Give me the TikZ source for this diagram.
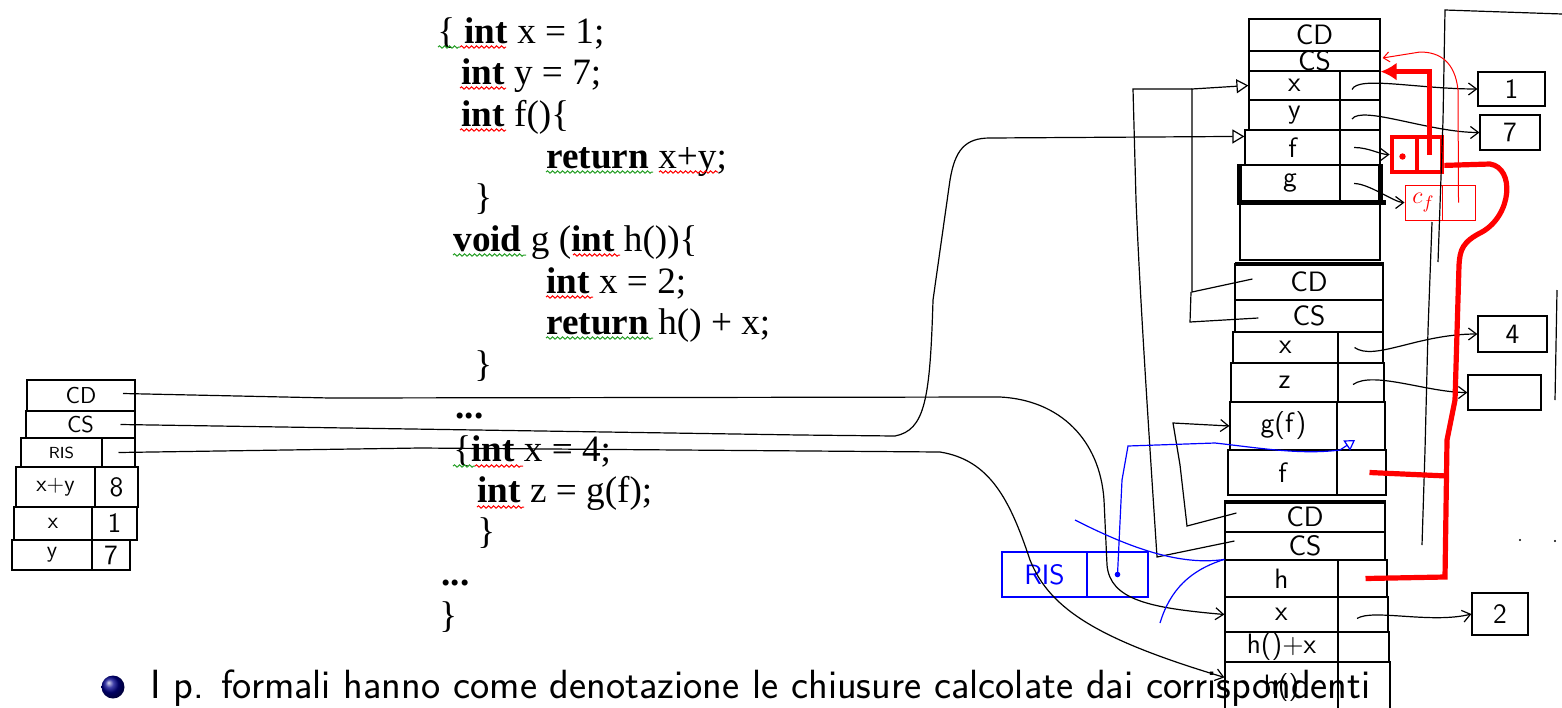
\documentclass[tikz,border=0pt]{standalone}
\usepackage{fontspec}
\setmainfont{Liberation Serif}
\usetikzlibrary{arrows.meta,calc,fit,decorations.pathmorphing,shadings}
\definecolor{sqgreen}{RGB}{40,160,40}
\newcommand\cellnode[7][]{\node[cellbox,#1,fit={(#3,#4) (#5,#6)}] (#2) {};
  \node[celltxt] (#2-t) at (#2.center) {#7};}
\newcommand\codeline[4]{\node[codest] (#1) at (#2,#3) {#4};}
\newcommand\squig[4]{\draw[squigst,#1] (#2,#4) -- (#3,#4);}
\newcommand\lsz{\fontsize{11.5}{12}\selectfont}
\tikzset{
  hand/.style={line width=0.6pt},
  arr/.style={-{Straight Barb[length=4pt,width=6pt]}},
  tri/.style={-{Triangle[open,length=6pt,width=7pt]}},
  cellbox/.style={draw,line width=0.6pt,inner sep=0pt},
  celltxt/.style={inner sep=0pt,font=\sffamily\fontsize{14}{14}\selectfont},
  barline/.style={line width=2.4pt},
  redthick/.style={red,line width=2.6pt},
  redthin/.style={red,line width=0.5pt},
  blueline/.style={blue,line width=0.6pt},
  codest/.style={anchor=base west,inner sep=0pt,font=\fontsize{18.6}{22}\selectfont},
  squigst/.style={decorate,decoration={snake,amplitude=0.6pt,segment length=2.5pt},line width=0.5pt,red},
}
\begin{document}
\begin{tikzpicture}[x=0.5pt,y=-0.5pt]
\fill[white] (0,0) rectangle (1562,707);
\useasboundingbox (0,0) rectangle (1562,707);

% ---------------- code ----------------
\codeline{c1}{437}{43}{\{ \textbf{int} x = 1;}
\codeline{c2}{461}{84}{\textbf{int} y = 7;}
\codeline{c3}{461}{126}{\textbf{int} f()\{}
\codeline{c4}{546}{168}{\textbf{return} x+y;}
\codeline{c5}{474}{209}{\}}
\codeline{c6}{453}{251}{\textbf{void} g (\textbf{int} h())\{}
\codeline{c7}{546}{293}{\textbf{int} x = 2;}
\codeline{c8}{546}{334}{\textbf{return} h() + x;}
\codeline{c9}{474}{376}{\}}
\codeline{c10}{455}{418}{\textbf{...}}
\codeline{c11}{453}{461}{\{\textbf{int} x = 4;}
\codeline{c12}{477}{502}{\textbf{int} z = g(f);}
\codeline{c13}{477}{543}{\}}
\codeline{c14}{441}{585}{\textbf{...}}
\codeline{c15}{439}{627}{\}}
\squig{sqgreen}{438}{460}{47}
\squig{}{460}{506}{47}
\squig{}{460}{506}{88}
\squig{}{460}{506}{130}
\squig{sqgreen}{546}{653}{172}
\squig{}{659}{718}{172}
\squig{sqgreen}{453}{526}{255}
\squig{}{573}{620}{255}
\squig{}{546}{593}{297}
\squig{sqgreen}{546}{653}{338}
\squig{sqgreen}{453}{475}{466}
\squig{}{475}{523}{466}
\squig{}{477}{524}{507}

% ---------------- left stack ----------------
\cellnode{LCD}{27}{380}{135}{411}{\lsz CD}
\cellnode{LCS}{26}{411}{135}{438}{\lsz CS}
\cellnode{LR}{21}{438}{102}{467}{\fontsize{8}{8}\selectfont RIS}
\cellnode{LRv}{102}{438}{135}{467}{}
\cellnode{Ls}{16}{467}{95}{507}{\lsz x+y}
\cellnode{Lsv}{95}{467}{138}{507}{8}
\cellnode{Lx}{14}{507}{92}{540}{\lsz x}
\cellnode{Lxv}{92}{507}{137}{540}{1}
\cellnode{Ly}{12}{540}{92}{570}{\lsz y}
\cellnode{Lyv}{92}{540}{130}{570}{7}

% ---------------- top record ----------------
\cellnode{TCD}{1249}{19}{1380}{51}{CD}
\cellnode{TCS}{1249}{51}{1380}{71}{CS}
\cellnode{Tx}{1249}{71}{1340}{100}{x}
\cellnode{Txv}{1340}{71}{1380}{100}{}
\cellnode{Ty}{1249}{100}{1340}{130}{y}
\cellnode{Tyv}{1340}{100}{1380}{130}{}
\cellnode{Tf}{1245}{130}{1340}{165}{f}
\cellnode{Tfv}{1340}{130}{1380}{165}{}
\cellnode{Tg}{1240}{165}{1340}{202}{g}
\cellnode{Tgv}{1340}{165}{1380}{202}{}
\cellnode{Te}{1240}{202}{1380}{260}{}
\draw[barline] (Tg.north west) -- (Tg.south west) -- ($(Tgv.south east)+(5,0)$);
\draw[barline] (Tgv.north east) -- (Tgv.south east);

% ---------------- middle record ----------------
\draw[barline] (1235,264) -- (1384,264);
\cellnode{MCD}{1235}{264}{1383}{300}{CD}
\cellnode{MCS}{1235}{300}{1383}{332}{CS}
\cellnode{Mx}{1233}{332}{1338}{363}{x}
\cellnode{Mxv}{1338}{332}{1383}{363}{}
\cellnode{Mz}{1231}{363}{1338}{402}{z}
\cellnode{Mzv}{1338}{363}{1384}{402}{}
\cellnode{Mg}{1230}{402}{1337}{450}{g(f)}
\cellnode{Mgv}{1337}{402}{1385}{450}{}
\cellnode{Mf}{1228}{450}{1337}{495}{f}
\cellnode{Mfv}{1337}{450}{1386}{495}{}

% ---------------- lower record ----------------
\draw[barline] (1224,502) -- (1386,502);
\cellnode{BCD}{1225}{502}{1385}{532}{CD}
\cellnode{BCS}{1225}{532}{1385}{560}{CS}
\cellnode{Bh}{1225}{560}{1338}{597}{h}
\cellnode{Bhv}{1338}{560}{1387}{597}{}
\cellnode{Bx}{1225}{597}{1338}{632}{x}
\cellnode{Bxv}{1338}{597}{1388}{632}{}
\cellnode{Bs}{1225}{632}{1338}{662}{h()+x}
\cellnode{Bsv}{1338}{632}{1389}{662}{}
\cellnode{Bl}{1225}{662}{1338}{714}{h()}
\cellnode{Blv}{1338}{662}{1390}{714}{}

% ---------------- value boxes ----------------
\cellnode{V1}{1478}{72}{1545}{106}{1}
\cellnode{V7}{1480}{115}{1540}{150}{7}
\cellnode{V4}{1478}{316}{1547}{352}{4}
\cellnode{Vz}{1468}{375}{1541}{410}{}
\cellnode{V2}{1472}{593}{1528}{635}{2}

% red closures
\cellnode[draw=red,line width=2.4pt]{RCn}{1392}{137}{1417}{172}{}
\cellnode[draw=red,line width=2.4pt]{RCv}{1417}{137}{1442}{172}{}
\fill[red] ($(RCn.center)+(-2,2)$) circle (1.6pt);
\cellnode[draw=red,line width=0.5pt]{RCfn}{1405}{185}{1442}{220}{\color{red}\fontsize{13}{13}\selectfont$c_f$}
\cellnode[draw=red,line width=0.5pt]{RCfv}{1442}{185}{1475}{220}{}

% blue RIS box
\cellnode[draw=blue]{BRn}{1002}{552}{1087}{597}{\color{blue}RIS}
\cellnode[draw=blue]{BRv}{1087}{552}{1148}{597}{}

% ---------------- long free strokes ----------------
\draw[hand] (1562,14) -- (1445,10) -- (1443,120) -- (1438,262);
\draw[hand] (1432,222) -- (1428,330) -- (1425,450) -- (1422,545);
\draw[hand] (1557,290) -- (1555,400);
\fill (1520,540) circle (0.6pt);
\fill (1555,541) circle (0.6pt);

% ---------------- connectors ----------------
% left stack links
\draw[hand,arr] ($(LCD.center)+(42,-2)$) -- (330,398) -- (1000,397)
   .. controls (1060,400) and (1100,440) .. (1104,500) -- (1107,565)
   .. controls (1110,600) and (1150,608) .. (Bx.west);
\draw[hand,tri] ($(LCS.center)+(40,0)$) -- (800,435) -- (895,436)
   .. controls (925,430) and (930,400) .. (933,300) -- (950,180)
   .. controls (955,150) and (965,138) .. (990,138) -- ($(Tf.north west)+(0,7)$);
\draw[hand,arr] (LRv.center) -- (420,448) -- (940,452)
   .. controls (990,460) and (1010,500) .. (1030,560)
   .. controls (1050,610) and (1100,640) .. ($(Bl.north west)+(0,16)$);

% access links of the records
\draw[hand,tri] ($(MCD.west)+(18,-3)$) -- (1192,292) -- (1192,89) -- (Tx.west);
\draw[hand] ($(MCS.west)+(24,2)$) -- (1190,322) -- (1191,292);
\draw[hand] ($(BCS.west)+(10,-5)$) -- (1157,557)
   .. controls (1150,450) and (1140,300) .. (1136,200) -- (1133,89) -- (1192,89);
\draw[hand,arr] ($(BCD.west)+(12,-4)$) -- (1187,526) -- (1180,465) -- (1173,423) -- (Mg.west);

% values
\draw[hand,arr] ($(Txv.center)+(-8,4)$) .. controls +(6,-14) and +(-60,0) .. (V1.west);
\draw[hand,arr] ($(Tyv.center)+(-8,4)$) .. controls +(10,-14) and +(-50,0) .. (V7.west);
\draw[hand,arr] ($(Tfv.center)+(-6,0)$) .. controls +(15,0) and +(-10,0) .. (RCn.west);
\draw[hand,arr] ($(Tgv.center)+(-6,0)$) .. controls +(15,0) and +(-10,0) .. (RCfn.west);
\draw[hand,arr] ($(Mxv.center)+(-6,0)$) .. controls +(20,14) and +(-60,0) .. (V4.west);
\draw[hand,arr] ($(Mzv.center)+(-8,2)$) .. controls +(20,-14) and +(-40,0) .. (Vz.west);
\draw[hand,arr] ($(Bxv.center)+(-6,4)$) .. controls +(15,-10) and +(-40,10) .. (V2.west);

% red closure links
\draw[redthick,-{Latex[length=8pt,width=9pt]}] (RCv.center) -- (RCv.center |- TCS.south east) -- (TCS.south east);
\draw[redthin,-{Straight Barb[length=3pt,width=5pt]}] (RCfv.center) -- (1458,90)
   .. controls (1455,62) and (1440,52) .. (1420,52) -- ($(TCS.east)+(2,-3)$);
\draw[redthick] ($(RCv.south east)+(0,-9)$) -- (1490,164)
   .. controls (1515,168) and (1512,215) .. (1482,232)
   .. controls (1462,242) and (1460,250) .. (1459,265)
   -- (1455,400) -- (1447,440) -- (1445,577) -- ($(Bhv.center)+(3,0)$);
\draw[redthick] (1447,476) -- ($(Mfv.center)+(8,0)$);

% blue
\draw[blueline,-{Triangle[open,length=5pt,width=6pt]}] (BRv.center) -- (1122,480) -- (1128,446) -- (1215,443)
   .. controls (1260,448) and (1300,455) .. (1340,450) -- ($(Mgv.center)+(-6,14)$);
\fill[blue] (BRv.center) circle (1.4pt);
\draw[blueline] (1075,520) .. controls (1130,548) and (1180,566) .. (Bh.north west);
\draw[blueline] (1160,623) .. controls (1170,590) and (1190,570) .. (Bh.north west);

% ---------------- bullet ----------------
\node[circle,ball color=blue!55!black,minimum size=11.5pt,inner sep=0pt] (bul) at (113,687) {};
\node[anchor=base west,inner sep=0pt,font=\sffamily\fontsize{20.4}{24}\selectfont] (btxt) at (150,698)
  {I p. formali hanno come denotazione le chiusure calcolate dai corrispondenti};
\end{tikzpicture}
\end{document}
